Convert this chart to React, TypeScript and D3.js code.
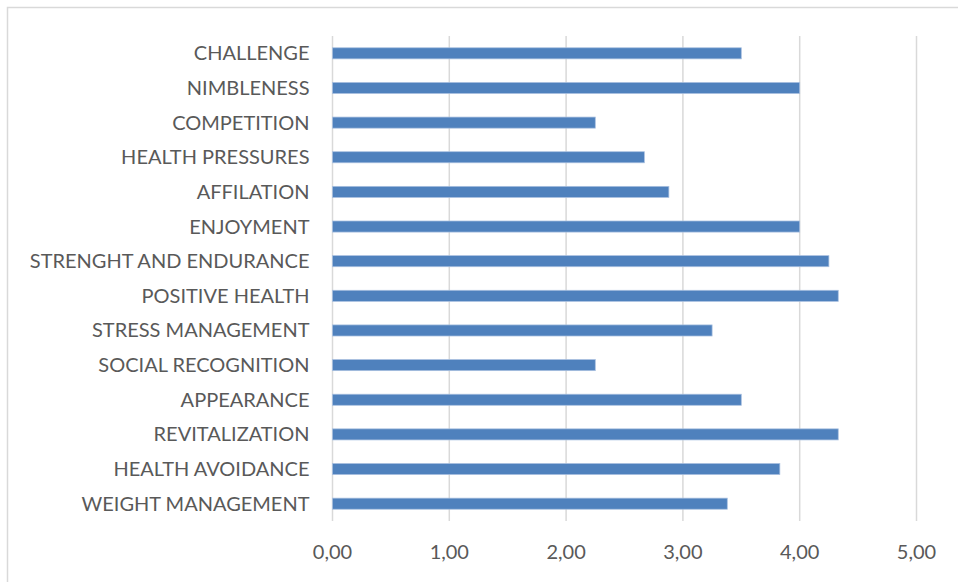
import React from 'react';
import * as d3 from 'd3';

const categories = [
  'CHALLENGE',
  'NIMBLENESS',
  'COMPETITION',
  'HEALTH PRESSURES',
  'AFFILATION',
  'ENJOYMENT',
  'STRENGHT AND ENDURANCE',
  'POSITIVE HEALTH',
  'STRESS MANAGEMENT',
  'SOCIAL RECOGNITION',
  'APPEARANCE',
  'REVITALIZATION',
  'HEALTH AVOIDANCE',
  'WEIGHT MANAGEMENT',
];

const values = [3.5, 4.0, 2.25, 2.67, 2.88, 4.0, 4.25, 4.33, 3.25, 2.25, 3.5, 4.33, 3.83, 3.38];

const xTicks = [0, 1, 2, 3, 4, 5];

const width = 958;
const height = 582;
const marginLeft = 332.5;
const marginRight = 41.5;
const marginTop = 36;
const marginBottom = 61;

const font = 'Lato, "Open Sans", sans-serif';
const textColor = '#595959';

const App: React.FC = () => {
  const x = d3.scaleLinear()
    .domain([0, 5])
    .range([marginLeft, width - marginRight]);

  const y = d3.scaleBand()
    .domain(categories)
    .range([marginTop, height - marginBottom])
    .paddingInner(0.68)
    .paddingOuter(0.34);

  const fmt = (d: number) => d.toFixed(2).replace('.', ',');

  return (
    <svg
      width={width}
      height={height}
      style={{ position: 'absolute', left: 0, top: 0, background: '#fff' }}
    >
      {/* chart border */}
      <rect x={7.5} y={7.5} width={width + 10} height={height + 10} fill="#fff" stroke="#d9d9d9" strokeWidth={1.5} />

      {/* gridlines */}
      <g>
        {xTicks.map(t => (
          <line
            key={t}
            x1={x(t)}
            x2={x(t)}
            y1={marginTop}
            y2={height - marginBottom}
            stroke="#d9d9d9"
            strokeWidth={1.5}
          />
        ))}
      </g>

      {/* bars */}
      <g>
        {categories.map((c, i) => (
          <rect
            key={c}
            x={x(0)}
            y={y(c)!}
            width={x(values[i]) - x(0)}
            height={y.bandwidth()}
            fill="#4f81bd"
            stroke="#a9c0e0"
            strokeWidth={0.75}
          />
        ))}
      </g>

      {/* category labels */}
      <g fontFamily={font} fontSize={20} fill={textColor} textAnchor="end">
        {categories.map(c => (
          <text key={c} x={marginLeft - 23} y={y(c)! + y.bandwidth() / 2} dy="0.35em">
            {c}
          </text>
        ))}
      </g>

      {/* x tick labels */}
      <g fontFamily={font} fontSize={20} fill={textColor} textAnchor="middle">
        {xTicks.map(t => (
          <text key={t} x={x(t)} y={height - marginBottom + 31} dy="0.35em">
            {fmt(t)}
          </text>
        ))}
      </g>
    </svg>
  );
};

export default App;
